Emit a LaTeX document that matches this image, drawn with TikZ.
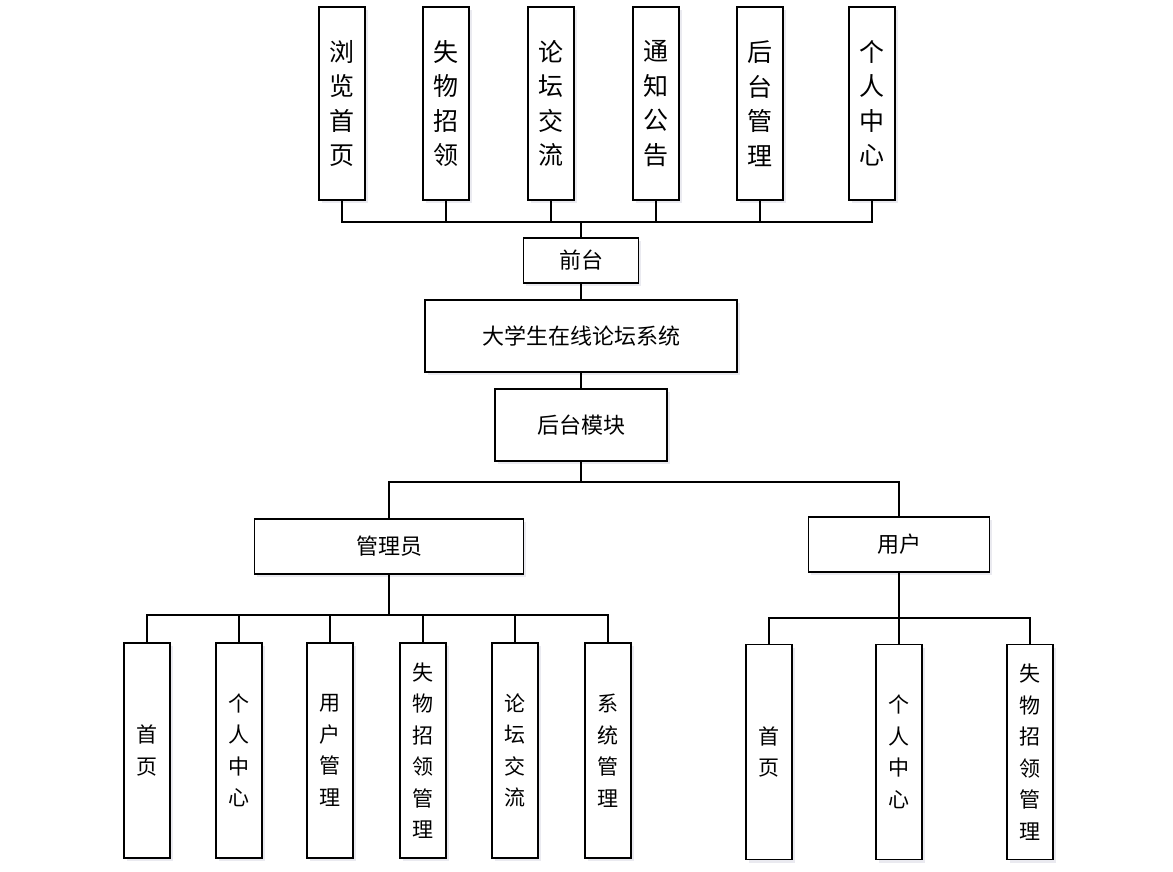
\documentclass[tikz,border=0pt]{standalone}
\usepackage{fontspec}
\setmainfont{Noto Sans CJK SC}
\usetikzlibrary{shadows}

\tikzset{
  box/.style={draw, line width=1.6pt, fill=white, inner sep=0pt, align=center,
    drop shadow={shadow xshift=2.5pt, shadow yshift=-3pt, opacity=0.35, fill=blue!15!gray!40}},
  wide/.style={box, font=\fontsize{22}{25}\selectfont},
  tall/.style={box, minimum width=46, minimum height=193, font=\fontsize{25}{34.5}\selectfont},
  low/.style={box, minimum width=46, minimum height=215, font=\fontsize{21}{31.5}\selectfont},
  link/.style={line width=1.6pt}
}

\begin{document}
\begin{tikzpicture}[x=1pt, y=-1pt]
  \useasboundingbox (0,0) rectangle (1173,871);

  % front end modules
  \node[tall] (t1) at (342,103.5) {浏\\览\\首\\页};
  \node[tall] (t2) at (446,103.5) {失\\物\\招\\领};
  \node[tall] (t3) at (551,103.5) {论\\坛\\交\\流};
  \node[tall] (t4) at (656,103.5) {通\\知\\公\\告};
  \node[tall] (t5) at (760,103.5) {后\\台\\管\\理};
  \node[tall] (t6) at (872,103.5) {个\\人\\中\\心};

  % centre column
  \node[wide, minimum width=115, minimum height=45] (front) at (581,260.5) {前台};
  \node[wide, minimum width=312, minimum height=72] (sys) at (581,336) {大学生在线论坛系统};
  \node[wide, minimum width=172, minimum height=72] (back) at (581,425) {后台模块};

  % roles
  \node[wide, minimum width=269, minimum height=55] (admin) at (389,546.5) {管理员};
  \node[wide, minimum width=181, minimum height=55] (user) at (899,544.5) {用户};

  % admin modules
  \node[low] (a1) at (147,750.5) {首\\页};
  \node[low] (a2) at (239,750.5) {个\\人\\中\\心};
  \node[low] (a3) at (330,750.5) {用\\户\\管\\理};
  \node[low] (a4) at (423,750.5) {失\\物\\招\\领\\管\\理};
  \node[low] (a5) at (515,750.5) {论\\坛\\交\\流};
  \node[low] (a6) at (608,750.5) {系\\统\\管\\理};

  % user modules
  \node[low] (u1) at (769,752) {首\\页};
  \node[low] (u2) at (899,752) {个\\人\\中\\心};
  \node[low] (u3) at (1030,752) {失\\物\\招\\领\\管\\理};

  % bus lines
  \coordinate (topbus) at (581,222);
  \coordinate (midbus) at (581,482);
  \coordinate (adminbus) at (389,615);
  \coordinate (userbus) at (899,618);

  \foreach \i in {1,...,6}
    \draw[link] (t\i.south) |- (topbus);
  \draw[link] (topbus) -- (front.north);
  \draw[link] (front) -- (sys);
  \draw[link] (sys) -- (back);

  \draw[link] (back.south) -- (midbus) -| (admin.north);
  \draw[link] (midbus) -| (user.north);

  \foreach \i in {1,...,6}
    \draw[link] (a\i.north) |- (adminbus);
  \draw[link] (adminbus) -- (admin.south);

  \foreach \i in {1,2,3}
    \draw[link] (u\i.north) |- (userbus);
  \draw[link] (userbus) -- (user.south);
\end{tikzpicture}
\end{document}
